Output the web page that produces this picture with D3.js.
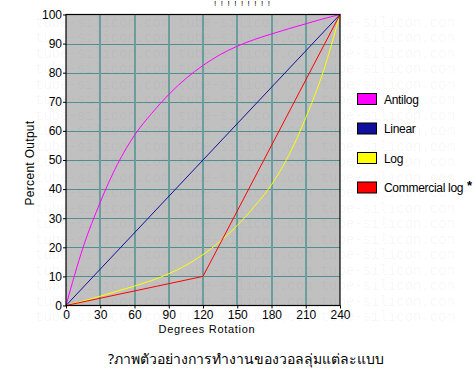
<!DOCTYPE html>
<html><head><meta charset="utf-8">
<script src="https://cdn.jsdelivr.net/npm/d3@7"></script>
<style>
html,body{margin:0;padding:0;background:#fff;}
svg{display:block;}
</style></head>
<body>
<svg id="c" width="476" height="372"></svg>
<script>
// ---- data ----
const degrees = [0,15,30,45,60,75,90,105,120,135,150,165,180,195,210,225,240];
const antilog = [0,20,35.5,48.5,58.5,66,72.5,78,82.5,86.2,89.1,91.4,93.3,95.1,96.8,98.5,100];
const logVals = [0,1.5,3.2,4.9,6.7,8.6,10.9,13.8,17.5,22,27.5,34,41.5,51.5,64.5,80,100];
const linearDeg = [0,240];
const linearVals = [0,100];
const commDeg = [0,120,240];
const commVals = [0,10,100];
const xTicks = [0,30,60,90,120,150,180,210,240];
const yTicks = [0,10,20,30,40,50,60,70,80,90,100];
const seriesNames = ["Antilog","Linear","Log","Commercial log"];
const seriesColors = ["#ff00ff","#10109c","#ffff00","#ff0000"];
const xTitle = "Degrees Rotation";
const yTitle = "Percent Output";
const caption = "?ภาพตัวอย่างการทำงานของวอลลุ่มแต่ละแบบ";
const watermark = "tube-silicon.com";

const svg = d3.select("#c");
const L=66, R=340, T=14.5, B=305.5;
const x = d3.scaleLinear().domain([0,240]).range([L,R]);
const y = d3.scaleLinear().domain([0,100]).range([B,T]);

// plot background
svg.append("rect").attr("x",L).attr("y",T).attr("width",R-L).attr("height",B-T).attr("fill","#c0c0c0");

// watermark
const wm = svg.append("g").attr("font-family","'Liberation Mono','DejaVu Sans Mono',monospace")
  .attr("font-size",14).attr("fill","#000").attr("fill-opacity",0.045);
for(let i=0;i<20;i++){
  wm.append("text").attr("x",35).attr("y",22.3+i*15.5+4.5)
    .text(watermark+" "+watermark+" "+watermark);
}

// grid
const grid = svg.append("g");
grid.selectAll("line.h").data(yTicks.filter(d=>d>0&&d<100)).join("line")
  .attr("x1",L).attr("x2",R).attr("y1",d=>Math.round(y(d))+0.5).attr("y2",d=>Math.round(y(d))+0.5)
  .attr("stroke","#4f8f8f").attr("stroke-width",1.2);
grid.selectAll("line.v").data(xTicks.filter(d=>d>0&&d<240)).join("line")
  .attr("x1",d=>Math.round(x(d))).attr("x2",d=>Math.round(x(d))).attr("y1",T).attr("y2",B)
  .attr("stroke","#6a9e9e").attr("stroke-width",2);

// lines
const curved = d3.line().x(d=>x(d[0])).y(d=>y(d[1])).curve(d3.curveMonotoneX);
const straight = d3.line().x(d=>x(d[0])).y(d=>y(d[1]));
const data = [
  {pts:d3.zip(degrees,antilog), gen:curved},
  {pts:d3.zip(linearDeg,linearVals), gen:straight},
  {pts:d3.zip(degrees,logVals), gen:curved},
  {pts:d3.zip(commDeg,commVals), gen:straight}
];
svg.append("g").selectAll("path").data(data).join("path")
  .attr("d",d=>d.gen(d.pts)).attr("fill","none")
  .attr("stroke",(d,i)=>seriesColors[i]).attr("stroke-width",1);

// border
svg.append("rect").attr("x",L).attr("y",T).attr("width",R-L).attr("height",B-T)
  .attr("fill","none").attr("stroke","#000").attr("stroke-width",1.2);

// axes
const ya = svg.append("g").attr("transform",`translate(${L},0)`)
  .call(d3.axisLeft(y).tickValues(yTicks).tickSize(3).tickPadding(1));
const xa = svg.append("g").attr("transform",`translate(0,${B})`)
  .call(d3.axisBottom(x).tickValues(xTicks).tickSize(3).tickPadding(2));
[ya,xa].forEach(a=>{
  a.select(".domain").remove();
  a.selectAll("text").attr("font-family","'Liberation Sans',Arial,sans-serif").attr("font-size",12).attr("fill","#000");
  a.selectAll("line").attr("stroke","#000");
});

// titles
svg.append("text").attr("x",207).attr("y",333).attr("text-anchor","middle")
  .attr("font-family","'Liberation Sans',Arial,sans-serif").attr("font-size",11)
  .attr("letter-spacing",0.7).text(xTitle);
svg.append("text").attr("transform","translate(34,163) rotate(-90)").attr("text-anchor","middle")
  .attr("font-family","'Liberation Sans',Arial,sans-serif").attr("font-size",12)
  .attr("letter-spacing",0.3).text(yTitle);

// legend
const lg = svg.append("g").attr("font-family","'Liberation Sans',Arial,sans-serif").attr("font-size",12);
seriesNames.forEach((n,i)=>{
  const yy = 93 + i*29.5;
  lg.append("rect").attr("x",357.5).attr("y",yy+0.5).attr("width",19).attr("height",11)
    .attr("fill",seriesColors[i]).attr("stroke","#000").attr("stroke-width",1);
  lg.append("text").attr("x",384).attr("y",yy+10.5).attr("letter-spacing",-0.3).text(n);
});
lg.append("text").attr("x",467).attr("y",190).attr("font-weight","bold").attr("font-size",13).text("*");

// top clipped title marks
svg.append("text").attr("x",214).attr("y",6).attr("font-family","'Liberation Sans',Arial,sans-serif")
  .attr("font-size",8).attr("letter-spacing",4.5).text("!!!!!!!!!");

// caption
svg.append("text").attr("x",246).attr("y",364).attr("text-anchor","middle")
  .attr("font-family","'Noto Sans','DejaVu Sans',sans-serif").attr("font-size",14).text(caption);
</script>
</body></html>
